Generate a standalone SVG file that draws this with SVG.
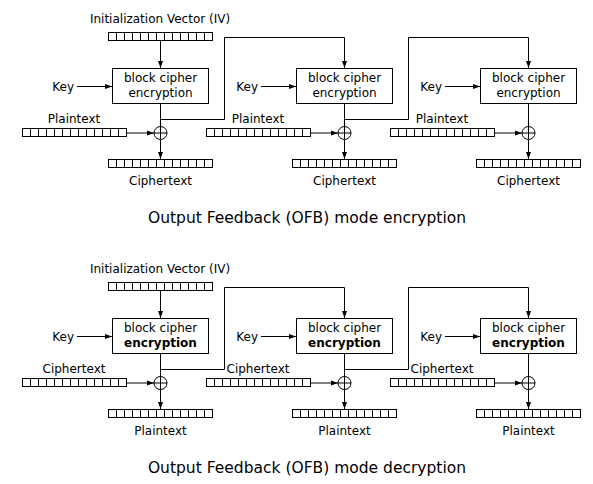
<svg xmlns="http://www.w3.org/2000/svg" xmlns:xlink="http://www.w3.org/1999/xlink" width="593" height="484" viewBox="0 0 593 484">
<style>
  text { font-family: "DejaVu Sans", sans-serif; font-size: 12px; fill: #000; }
  .c { text-anchor: middle; }
  .e { text-anchor: end; }
  .title { font-size: 15.5px; text-anchor: middle; }
  .b { font-weight: bold; }
  .ln { fill: none; stroke: #000; stroke-width: 1; }
  .box { fill: #fff; stroke: #000; stroke-width: 1; }
  .arr { fill: none; stroke: #000; stroke-width: 1; marker-end: url(#ah); }
</style>
<defs>
  <marker id="ah" markerUnits="userSpaceOnUse" markerWidth="8" markerHeight="6" refX="7" refY="3" orient="auto">
    <path d="M0,0.5 L7,3 L0,5.5 z" fill="#000"/>
  </marker>
  <g id="bar">
    <rect x="0" y="0" width="104" height="8" fill="#fff" stroke="#000" stroke-width="1"/>
    <path d="M8,0v8M16,0v8M24,0v8M32,0v8M40,0v8M48,0v8M56,0v8M64,0v8M72,0v8M80,0v8M88,0v8M96,0v8" stroke="#000" stroke-width="1" fill="none"/>
  </g>
  <g id="xor">
    <circle cx="0" cy="0" r="6.5" fill="none" stroke="#000" stroke-width="1"/>
    <path d="M-6.5,0H6.5M0,-6.5V6.5" stroke="#000" stroke-width="1"/>
  </g>
</defs>

<g id="connectors">
  <!-- encryption -->
  <line class="arr" x1="160.5" y1="41" x2="160.5" y2="68"/>
  <line class="arr" x1="77" y1="86.5" x2="112" y2="86.5"/>
  <line class="arr" x1="261" y1="86.5" x2="296" y2="86.5"/>
  <line class="arr" x1="445" y1="86.5" x2="480" y2="86.5"/>
  <line class="ln" x1="160.5" y1="104" x2="160.5" y2="126.5"/>
  <line class="ln" x1="344.5" y1="104" x2="344.5" y2="126.5"/>
  <line class="ln" x1="528.5" y1="104" x2="528.5" y2="126.5"/>
  <line class="arr" x1="127" y1="133" x2="154" y2="133"/>
  <line class="arr" x1="311" y1="133" x2="338" y2="133"/>
  <line class="arr" x1="495" y1="133" x2="522" y2="133"/>
  <line class="arr" x1="160.5" y1="139.5" x2="160.5" y2="159"/>
  <line class="arr" x1="344.5" y1="139.5" x2="344.5" y2="159"/>
  <line class="arr" x1="528.5" y1="139.5" x2="528.5" y2="159"/>
  <polyline class="arr" points="160.5,119.5 224.5,119.5 224.5,37.5 344.5,37.5 344.5,68"/>
  <polyline class="arr" points="344.5,119.5 408.5,119.5 408.5,37.5 528.5,37.5 528.5,68"/>
  <!-- decryption -->
  <line class="arr" x1="160.5" y1="291" x2="160.5" y2="318"/>
  <line class="arr" x1="77" y1="336.5" x2="112" y2="336.5"/>
  <line class="arr" x1="261" y1="336.5" x2="296" y2="336.5"/>
  <line class="arr" x1="445" y1="336.5" x2="480" y2="336.5"/>
  <line class="ln" x1="160.5" y1="354" x2="160.5" y2="376.5"/>
  <line class="ln" x1="344.5" y1="354" x2="344.5" y2="376.5"/>
  <line class="ln" x1="528.5" y1="354" x2="528.5" y2="376.5"/>
  <line class="arr" x1="127" y1="383" x2="154" y2="383"/>
  <line class="arr" x1="311" y1="383" x2="338" y2="383"/>
  <line class="arr" x1="495" y1="383" x2="522" y2="383"/>
  <line class="arr" x1="160.5" y1="389.5" x2="160.5" y2="409"/>
  <line class="arr" x1="344.5" y1="389.5" x2="344.5" y2="409"/>
  <line class="arr" x1="528.5" y1="389.5" x2="528.5" y2="409"/>
  <polyline class="arr" points="160.5,369.5 224.5,369.5 224.5,287.5 344.5,287.5 344.5,318"/>
  <polyline class="arr" points="344.5,369.5 408.5,369.5 408.5,287.5 528.5,287.5 528.5,318"/>
</g>

<g id="enc">
  <g id="enc-iv">
    <text class="c" x="160" y="23">Initialization Vector (IV)</text>
    <use xlink:href="#bar" x="108.5" y="32.5"/>
  </g>
  <g id="enc-col1">
    <text class="e" x="74" y="91">Key</text>
    <rect class="box" x="112.5" y="68.5" width="96" height="35"/>
    <text class="c" x="160.5" y="82">block cipher</text>
    <text class="c" x="160.5" y="97">encryption</text>
    <text class="c" x="74" y="123">Plaintext</text>
    <use xlink:href="#bar" x="22.5" y="128.5"/>
    <use xlink:href="#xor" x="160.5" y="133"/>
    <use xlink:href="#bar" x="108.5" y="159.5"/>
    <text class="c" x="160.5" y="185">Ciphertext</text>
  </g>
  <g id="enc-col2">
    <text class="e" x="258" y="91">Key</text>
    <rect class="box" x="296.5" y="68.5" width="96" height="35"/>
    <text class="c" x="344.5" y="82">block cipher</text>
    <text class="c" x="344.5" y="97">encryption</text>
    <text class="c" x="258" y="123">Plaintext</text>
    <use xlink:href="#bar" x="206.5" y="128.5"/>
    <use xlink:href="#xor" x="344.5" y="133"/>
    <use xlink:href="#bar" x="292.5" y="159.5"/>
    <text class="c" x="344.5" y="185">Ciphertext</text>
  </g>
  <g id="enc-col3">
    <text class="e" x="442" y="91">Key</text>
    <rect class="box" x="480.5" y="68.5" width="96" height="35"/>
    <text class="c" x="528.5" y="82">block cipher</text>
    <text class="c" x="528.5" y="97">encryption</text>
    <text class="c" x="442" y="123">Plaintext</text>
    <use xlink:href="#bar" x="390.5" y="128.5"/>
    <use xlink:href="#xor" x="528.5" y="133"/>
    <use xlink:href="#bar" x="476.5" y="159.5"/>
    <text class="c" x="528.5" y="185">Ciphertext</text>
  </g>
  <text class="title" x="307" y="223">Output Feedback (OFB) mode encryption</text>
</g>

<g id="dec">
  <g id="dec-iv">
    <text class="c" x="160" y="273">Initialization Vector (IV)</text>
    <use xlink:href="#bar" x="108.5" y="282.5"/>
  </g>
  <g id="dec-col1">
    <text class="e" x="74" y="341">Key</text>
    <rect class="box" x="112.5" y="318.5" width="96" height="35"/>
    <text class="c" x="160.5" y="332">block cipher</text>
    <text class="c b" x="160.5" y="347">encryption</text>
    <text class="c" x="74" y="373">Ciphertext</text>
    <use xlink:href="#bar" x="22.5" y="378.5"/>
    <use xlink:href="#xor" x="160.5" y="383"/>
    <use xlink:href="#bar" x="108.5" y="409.5"/>
    <text class="c" x="160.5" y="435">Plaintext</text>
  </g>
  <g id="dec-col2">
    <text class="e" x="258" y="341">Key</text>
    <rect class="box" x="296.5" y="318.5" width="96" height="35"/>
    <text class="c" x="344.5" y="332">block cipher</text>
    <text class="c b" x="344.5" y="347">encryption</text>
    <text class="c" x="258" y="373">Ciphertext</text>
    <use xlink:href="#bar" x="206.5" y="378.5"/>
    <use xlink:href="#xor" x="344.5" y="383"/>
    <use xlink:href="#bar" x="292.5" y="409.5"/>
    <text class="c" x="344.5" y="435">Plaintext</text>
  </g>
  <g id="dec-col3">
    <text class="e" x="442" y="341">Key</text>
    <rect class="box" x="480.5" y="318.5" width="96" height="35"/>
    <text class="c" x="528.5" y="332">block cipher</text>
    <text class="c b" x="528.5" y="347">encryption</text>
    <text class="c" x="442" y="373">Ciphertext</text>
    <use xlink:href="#bar" x="390.5" y="378.5"/>
    <use xlink:href="#xor" x="528.5" y="383"/>
    <use xlink:href="#bar" x="476.5" y="409.5"/>
    <text class="c" x="528.5" y="435">Plaintext</text>
  </g>
  <text class="title" x="307" y="473">Output Feedback (OFB) mode decryption</text>
</g>
</svg>
